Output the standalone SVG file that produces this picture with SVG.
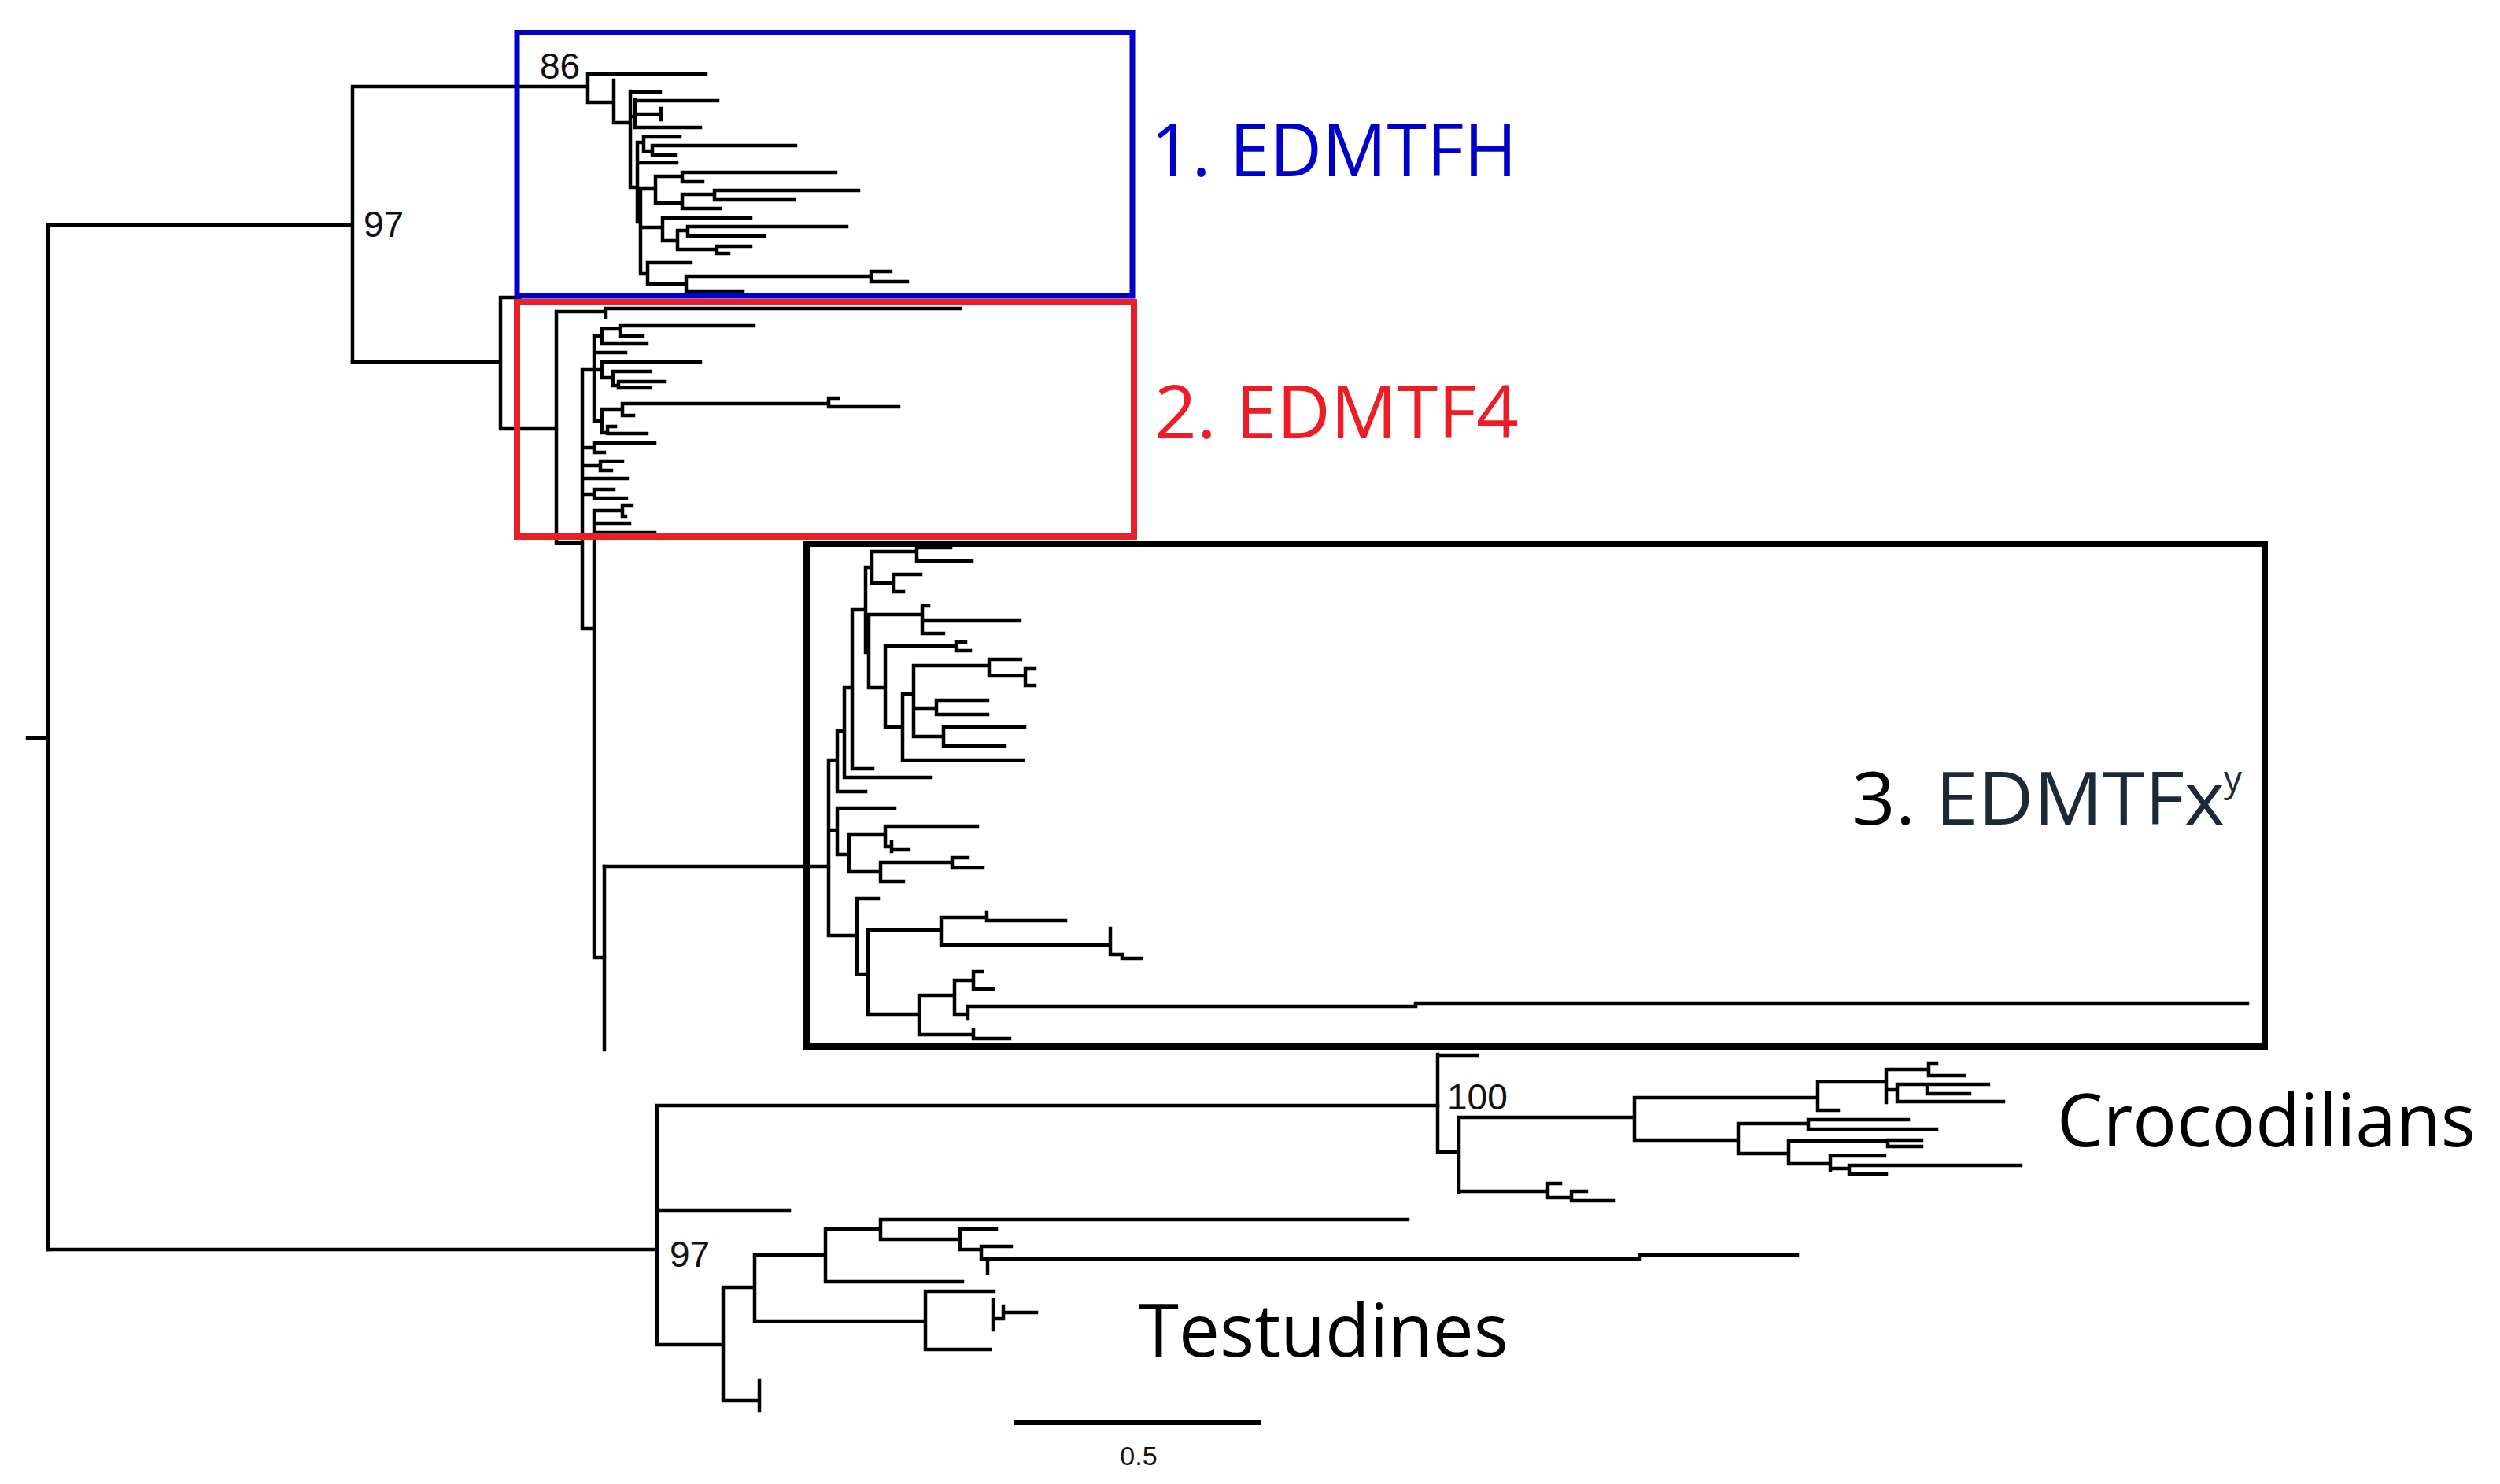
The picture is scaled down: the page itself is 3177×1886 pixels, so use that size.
<svg xmlns="http://www.w3.org/2000/svg" width="3177" height="1886" viewBox="0 0 3177 1886">
<style>
.br{fill:none;stroke:#000;stroke-width:4.5;stroke-linecap:square}
.num{font-family:"Liberation Sans",Arial,sans-serif;font-size:46px;fill:#111}
.lab{font-family:"Open Sans",sans-serif;font-size:94px}
.box{fill:none}
</style>
<rect width="3177" height="1886" fill="#fff"/>
<g id="connectors">
<path class="br" d="M35 938H61M61 286V1588M61 286H448M448 110V460M448 110H747M747 94V130M747 94H897M747 130H780M780 102V156M780 156H801M801 116V238M801 117H839M801 148H807M807 127V162M807 128H912M807 145H840M840 138V152M807 162H890M801 238H810M810 181V282M810 181H818M818 174V192M818 174H864M818 192H829M829 185V197M829 185H1011M829 197H858M810 207H860M810 282H814M814 240V348M814 240H833M833 224V258M833 224H867M867 219V231M867 219H1062M867 231H893M833 258H867M867 247V265M867 247H908M908 242V254M908 242H1091M908 254H1009M867 265H915M814 289H842M842 277V306M842 277H954M842 306H861M861 293V317M861 293H874M874 288V300M874 288H1076M874 300H971M861 317H911M911 313V322M911 313H954M911 322H926M814 348H823M823 334V361M823 334H878M823 361H872M872 351V370M872 351H1107M1107 345V358M1107 345H1132M1107 358H1153M872 370H944"/>
<path class="br" d="M448 460H636M636 378V545M636 378H660M636 545H707M707 396V690M707 396H770M770 392V403M770 392H1220M707 690H740M740 470V799M740 470H755M755 427V535M755 427H765M765 418V437M765 418H788M788 414V427M788 414H958M788 427H817M765 437H822M755 448H795M755 470H765M765 460V480M765 460H890M765 480H779M779 472V490M779 472H826M779 490H786M786 485V493M786 485H844M786 493H826M755 535H765M765 520V550M765 520H791M791 513V528M791 513H1053M1053 506V517M1053 506H1065M1053 517H1142M791 528H805M765 550H772M772 542V551M772 542H782M772 551H822M740 569H755M755 563V575M755 563H832M755 575H768M740 592H763M763 586V598M763 586H791M763 598H777M740 608H797M740 628H755M755 622V633M755 622H780M755 633H796M740 799H755M755 649V1217M755 649H791M791 642V656M791 642H803M791 656H795M755 665H800M755 677H832M755 1217H768M768 1101V1334"/>
<path class="br" d="M768 1101H1053M1053 966V1189M1053 966H1064M1064 929V1006M1064 929H1073M1073 874V988M1073 874H1083M1083 775V977M1083 775H1100M1100 721V829M1100 721H1108M1108 701V741M1108 701H1165M1165 696V713M1165 696H1208M1165 713H1235M1108 741H1136M1136 730V752M1136 730H1170M1136 752H1148M1100 829H1104M1104 781V874M1104 781H1172M1172 770V805M1172 770H1180M1172 789H1296M1172 805H1199M1104 874H1125M1125 821V924M1125 821H1215M1215 816V827M1215 816H1227M1215 827H1233M1125 924H1147M1147 882V966M1147 882H1161M1161 846V936M1161 846H1257M1257 838V859M1257 838H1297M1257 859H1303M1303 850V871M1303 850H1315M1303 871H1315M1161 900H1190M1190 890V908M1190 890H1255M1190 908H1255M1161 936H1199M1199 924V948M1199 924H1302M1199 948H1277M1147 966H1300M1083 977H1109M1073 988H1183M1064 1006H1100M1053 1055H1064M1064 1027V1086M1064 1027H1137M1064 1086H1079M1079 1061V1108M1079 1061H1125M1125 1050V1076M1125 1050H1242M1125 1076H1133M1133 1070V1082M1133 1080H1155M1079 1108H1119M1119 1096V1120M1119 1096H1210M1210 1090V1103M1210 1090H1230M1210 1103H1249M1119 1120H1148M1053 1189H1089M1089 1142V1238M1089 1142H1116M1089 1238H1103M1103 1182V1289M1103 1182H1196M1196 1166V1201M1196 1166H1254M1254 1160V1170M1254 1170H1354M1196 1201H1411M1411 1180V1213M1411 1213H1426M1426 1213V1218M1426 1218H1450M1103 1289H1168M1168 1265V1315M1168 1265H1213M1213 1246V1289M1213 1246H1237M1237 1235V1257M1237 1235H1248M1237 1257H1262M1213 1289H1230M1230 1279V1294M1230 1279H1799M1799 1275V1279M1799 1275H2856M1168 1315H1237M1237 1309V1320M1237 1320H1283"/>
<path class="br" d="M61 1588H835M835 1405V1709M835 1405H1827M835 1538H1003M835 1709H919M919 1636V1780M919 1636H959M959 1595V1679M959 1595H1049M1049 1562V1629M1049 1562H1119M1119 1550V1575M1119 1550H1789M1119 1575H1220M1220 1562V1588M1220 1562H1266M1220 1588H1247M1247 1584V1600M1247 1584H1285M1247 1600H2084M2084 1595V1600M2084 1595H2284M1255 1600V1618M1049 1629H1223M959 1679H1176M1176 1641V1715M1176 1641H1263M1176 1715H1258M1262 1652V1690M1262 1676H1275M1275 1660V1676M1275 1668H1317M919 1780H965M965 1754V1793"/>
<path class="br" d="M1827 1340V1464M1827 1341H1877M1827 1464H1854M1854 1420V1515M1854 1420H2077M2077 1395V1449M2077 1395H2310M2310 1375V1411M2310 1375H2397M2397 1359V1401M2397 1359H2451M2451 1352V1367M2451 1352H2461M2451 1367H2496M2397 1385H2411M2411 1378V1400M2411 1378H2449M2449 1378V1390M2449 1378H2527M2449 1390H2503M2411 1400H2546M2310 1411H2336M2077 1449H2209M2209 1428V1466M2209 1428H2298M2298 1423V1435M2298 1423H2425M2298 1435H2461M2209 1466H2273M2273 1450V1479M2273 1450H2399M2399 1449V1457M2399 1449H2442M2399 1457H2442M2273 1479H2326M2326 1469V1487M2326 1469H2395M2326 1485H2350M2350 1481V1492M2350 1481H2568M2350 1492H2397M1854 1514H1967M1967 1504V1522M1967 1504H1983M1967 1522H1997M1997 1514V1526M1997 1514H2016M1997 1526H2050"/>
</g>
<g id="clade-edmtfh">
<rect class="box" x="657" y="41.5" width="782" height="334.5" stroke="#0000c8" stroke-width="7"/>
<text class="lab" x="1462" y="224" fill="#0000c8" textLength="466" lengthAdjust="spacingAndGlyphs">1. EDMTFH</text>
</g>
<g id="clade-edmtf4">
<rect class="box" x="657" y="384" width="784" height="298" stroke="#e8202a" stroke-width="8"/>
<text class="lab" x="1467" y="557" fill="#ee1c25" textLength="463" lengthAdjust="spacingAndGlyphs">2. EDMTF4</text>
</g>
<g id="clade-edmtfx">
<rect class="box" x="1025" y="691" width="1853" height="639" stroke="#000" stroke-width="8"/>
<text class="lab" x="2353" y="1048" fill="#000" textLength="474" lengthAdjust="spacingAndGlyphs">3. <tspan fill="#1c2a38">EDMTFx</tspan></text>
<text x="2826" y="1006" font-family="Open Sans, sans-serif" font-size="46" fill="#1c2a38">y</text>
</g>
<g id="clade-crocodilians">
<text class="lab" x="2614" y="1457" fill="#000" textLength="532" lengthAdjust="spacingAndGlyphs">Crocodilians</text>
</g>
<g id="clade-testudines">
<text class="lab" x="1447" y="1724" fill="#000" textLength="470" lengthAdjust="spacingAndGlyphs">Testudines</text>
</g>
<g id="support-values">
<text class="num" x="462" y="301">97</text>
<text class="num" x="686" y="100">86</text>
<text class="num" x="851" y="1610">97</text>
<text class="num" x="1839" y="1410">100</text>
</g>
<g id="scale-bar">
<path d="M1288 1808H1602" stroke="#000" stroke-width="6" fill="none"/>
<text x="1447" y="1862" font-family="Liberation Sans, Arial, sans-serif" font-size="34" text-anchor="middle" fill="#111">0.5</text>
</g>
</svg>
